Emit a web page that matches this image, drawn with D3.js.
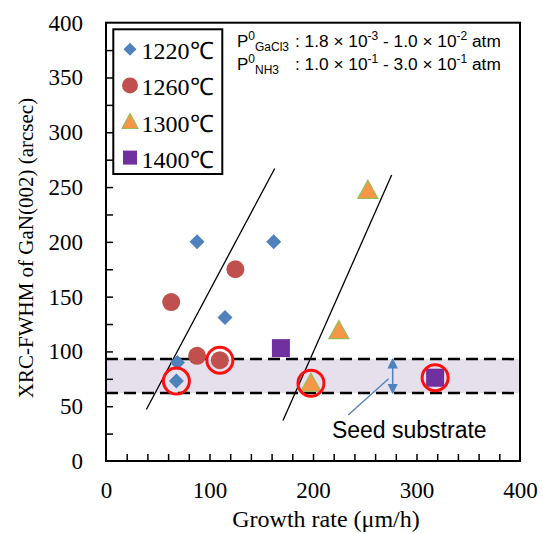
<!DOCTYPE html>
<html>
<head>
<meta charset="utf-8">
<script src="https://cdn.jsdelivr.net/npm/d3@7"></script>
<style>
  html, body { margin: 0; padding: 0; background: #fff; }
  svg { display: block; }
</style>
</head>
<body>
<svg id="chart" width="543" height="534"></svg>
<script>
// ---------- data ----------
const categories = ["1220℃", "1260℃", "1300℃", "1400℃"];
const x1220 = [88, 162, 115, 69, 68];
const y1220 = [200, 200, 131, 90, 73];
const x1260 = [63, 125, 88, 110];
const y1260 = [145, 175, 96, 92];
const x1300 = [253, 225, 198];
const y1300 = [247, 119, 71];
const x1400 = [169, 318];
const y1400 = [103, 76];
const highlightX = [68, 110, 198, 318];
const highlightY = [73, 92, 71, 76];
const seedBand = [62, 93];
const trendLine1 = [[39, 47], [163, 267]];
const trendLine2 = [[171, 37], [276, 261]];
const arrowX = 277;
const pointer = [[273, 75], [234, 42]];
const xTickLabels = [0, 100, 200, 300, 400];
const yTickLabels = [0, 50, 100, 150, 200, 250, 300, 350, 400];
const xTitle = "Growth rate (μm/h)";
const yTitle = "XRC-FWHM of GaN(002) (arcsec)";
const condSubs = ["GaCl3", "NH3"];
const condParts = [
  [": 1.8 × 10", "-3", " - 1.0 × 10", "-2"],
  [": 1.0 × 10", "-1", " - 3.0 × 10", "-1"]
];

// ---------- layout ----------
const svg = d3.select("#chart");
const L = 106, R = 520, T = 22.7, B = 461;
const x = d3.scaleLinear().domain([0, 400]).range([L, R]);
const y = d3.scaleLinear().domain([0, 400]).range([B, T]);

const colors = ["#4F81BD", "#C0504D", "#F79646", "#7030A0"];
const serif = "'Liberation Serif', 'Times New Roman', serif";
const sans = "'Liberation Sans', Arial, sans-serif";

// seed band
svg.append("rect")
  .attr("x", L).attr("width", R - L)
  .attr("y", y(seedBand[1])).attr("height", y(seedBand[0]) - y(seedBand[1]))
  .attr("fill", "#E5E0EC");
seedBand.forEach(v => {
  svg.append("line")
    .attr("x1", L).attr("x2", R).attr("y1", y(v)).attr("y2", y(v))
    .attr("stroke", "#000").attr("stroke-width", 2.5)
    .attr("stroke-dasharray", "12,6");
});

// axes ticks (inward)
svg.append("g").attr("transform", `translate(0,${B})`)
  .call(d3.axisBottom(x).tickValues(d3.range(20, 400, 20)).tickFormat("").tickSizeInner(-7).tickSizeOuter(0))
  .call(g => g.select(".domain").remove())
  .call(g => g.selectAll("line").attr("stroke", "#000").attr("stroke-width", 1.5));
svg.append("g").attr("transform", `translate(${L},0)`)
  .call(d3.axisLeft(y).tickValues(d3.range(25, 400, 25)).tickFormat("").tickSizeInner(-7).tickSizeOuter(0))
  .call(g => g.select(".domain").remove())
  .call(g => g.selectAll("line").attr("stroke", "#000").attr("stroke-width", 1.5));

// tick labels
svg.append("g").attr("transform", `translate(0,${B})`)
  .call(d3.axisBottom(x).tickValues(xTickLabels).tickSize(0).tickPadding(21))
  .call(g => g.select(".domain").remove())
  .call(g => g.selectAll("text").attr("font-family", serif).attr("font-size", 23).attr("fill", "#000"));
svg.append("g").attr("transform", `translate(${L},0)`)
  .call(d3.axisLeft(y).tickValues(yTickLabels).tickSize(0).tickPadding(23))
  .call(g => g.select(".domain").remove())
  .call(g => g.selectAll("text").attr("font-family", serif).attr("font-size", 23).attr("fill", "#000"));

// frame
svg.append("rect").attr("x", L).attr("y", T).attr("width", R - L).attr("height", B - T)
  .attr("fill", "none").attr("stroke", "#000").attr("stroke-width", 2);

// trend lines
[trendLine1, trendLine2].forEach(l => {
  svg.append("line")
    .attr("x1", x(l[0][0])).attr("y1", y(l[0][1]))
    .attr("x2", x(l[1][0])).attr("y2", y(l[1][1]))
    .attr("stroke", "#000").attr("stroke-width", 1.3);
});

// arrow
const defs = svg.append("defs");
defs.append("marker").attr("id", "ah").attr("viewBox", "0 0 10 10")
  .attr("refX", 9).attr("refY", 5).attr("markerWidth", 7).attr("markerHeight", 7)
  .attr("orient", "auto-start-reverse")
  .append("path").attr("d", "M0,0 L10,5 L0,10 z").attr("fill", "#4F81BD");
svg.append("line")
  .attr("x1", x(arrowX)).attr("x2", x(arrowX))
  .attr("y1", y(seedBand[1])).attr("y2", y(seedBand[0]))
  .attr("stroke", "#4F81BD").attr("stroke-width", 1.5)
  .attr("marker-start", "url(#ah)").attr("marker-end", "url(#ah)");
svg.append("line")
  .attr("x1", x(pointer[0][0])).attr("y1", y(pointer[0][1]))
  .attr("x2", x(pointer[1][0])).attr("y2", y(pointer[1][1]))
  .attr("stroke", "#4F81BD").attr("stroke-width", 1.3);

// markers
const diamond = "M0,-7.5L7.5,0L0,7.5L-7.5,0Z";
function drawSeries(xs, ys, idx) {
  const g = svg.append("g");
  xs.forEach((xv, i) => {
    const cx = x(xv), cy = y(ys[i]);
    if (idx === 0) {
      g.append("path").attr("d", diamond).attr("transform", `translate(${cx},${cy})`).attr("fill", colors[0]);
    } else if (idx === 1) {
      g.append("circle").attr("cx", cx).attr("cy", cy).attr("r", 9).attr("fill", colors[1]);
    } else if (idx === 2) {
      g.append("path").attr("d", "M0,-10L10,8L-10,8Z").attr("transform", `translate(${cx},${cy})`)
        .attr("fill", colors[2]).attr("stroke", "#9BBB59").attr("stroke-width", 1.2);
    } else {
      g.append("rect").attr("x", cx - 9).attr("y", cy - 9).attr("width", 18).attr("height", 18).attr("fill", colors[3]);
    }
  });
}
drawSeries(x1220, y1220, 0);
drawSeries(x1260, y1260, 1);
drawSeries(x1300, y1300, 2);
drawSeries(x1400, y1400, 3);

// highlight rings
highlightX.forEach((xv, i) => {
  svg.append("circle").attr("cx", x(xv)).attr("cy", y(highlightY[i])).attr("r", 13)
    .attr("fill", "none").attr("stroke", "#FF1010").attr("stroke-width", 3);
});

// legend
const lg = svg.append("g");
lg.append("rect").attr("x", 113.3).attr("y", 29.3).attr("width", 109).attr("height", 144.7)
  .attr("fill", "#fff").attr("stroke", "#000").attr("stroke-width", 2);
categories.forEach((c, i) => {
  const cy = 49.3 + i * 36.1, cx = 130;
  if (i === 0) lg.append("path").attr("d", "M0,-6.5L6.5,0L0,6.5L-6.5,0Z").attr("transform", `translate(${cx},${cy})`).attr("fill", colors[0]);
  if (i === 1) lg.append("circle").attr("cx", cx).attr("cy", cy).attr("r", 8).attr("fill", colors[1]);
  if (i === 2) lg.append("path").attr("d", "M0,-8L8,7L-8,7Z").attr("transform", `translate(${cx},${cy})`)
      .attr("fill", colors[2]).attr("stroke", "#9BBB59").attr("stroke-width", 1.2);
  if (i === 3) lg.append("rect").attr("x", cx - 7).attr("y", cy - 7).attr("width", 14).attr("height", 14).attr("fill", colors[3]);
  lg.append("text").attr("x", 141.5).attr("y", cy + 10)
    .attr("font-family", serif).attr("font-size", 24).attr("fill", "#000").text(c);
});

// conditions annotation
condSubs.forEach((sub, i) => {
  const yb = 46.7 + i * 23.3;
  const t1 = svg.append("text").attr("x", 237).attr("y", yb)
    .attr("font-family", sans).attr("font-size", 17).attr("fill", "#000");
  t1.append("tspan").text("P");
  t1.append("tspan").attr("font-size", 12).attr("dy", -7).text("0");
  t1.append("tspan").attr("font-size", 12).attr("dy", 11).text(sub);
  const p = condParts[i];
  const t2 = svg.append("text").attr("x", 295).attr("y", yb)
    .attr("font-family", sans).attr("font-size", 17.3).attr("fill", "#000");
  t2.append("tspan").text(p[0]);
  t2.append("tspan").attr("font-size", 12).attr("dy", -7).text(p[1]);
  t2.append("tspan").attr("dy", 7).text(p[2]);
  t2.append("tspan").attr("font-size", 12).attr("dy", -7).text(p[3]);
  t2.append("tspan").attr("dy", 7).text(" atm");
});

// seed substrate label
svg.append("text").attr("x", x(293)).attr("y", 438).attr("text-anchor", "middle")
  .attr("font-family", sans).attr("font-size", 23).attr("fill", "#000").text("Seed substrate");

// axis titles
svg.append("text").attr("x", 326).attr("y", 527).attr("text-anchor", "middle")
  .attr("font-family", serif).attr("font-size", 24).attr("fill", "#000").text(xTitle);
svg.append("text").attr("transform", "translate(33,248) rotate(-90)").attr("text-anchor", "middle")
  .attr("font-family", serif).attr("font-size", 21).attr("fill", "#000").text(yTitle);
</script>
</body>
</html>
